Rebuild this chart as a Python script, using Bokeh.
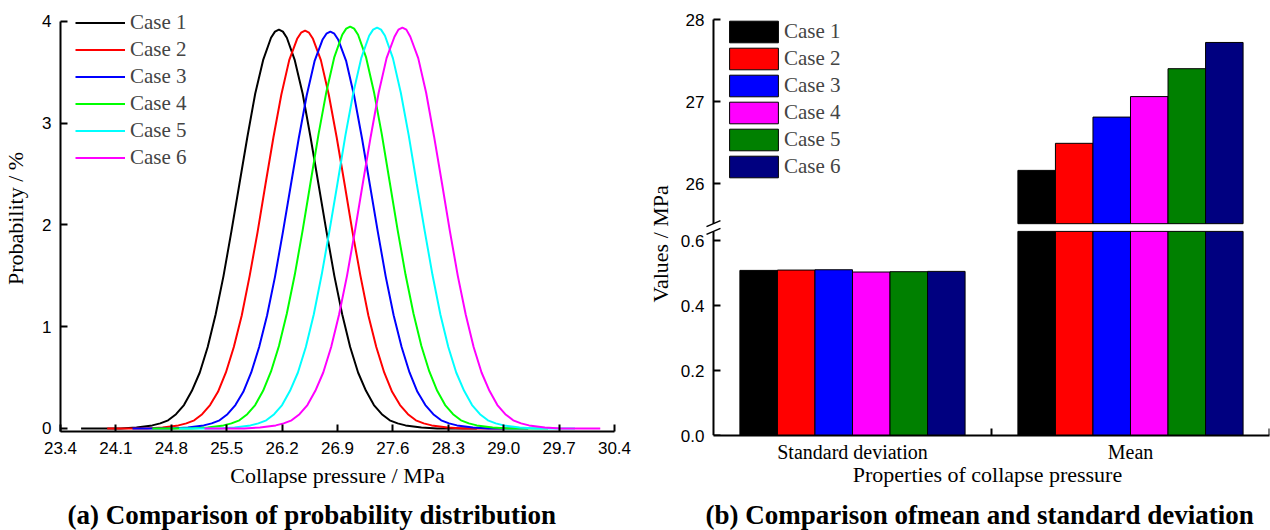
from bokeh.plotting import figure
from bokeh.models import (Range1d, FixedTicker, PrintfTickFormatter, Title,
                          Legend, LegendItem)
from bokeh.core.properties import value
from bokeh.layouts import row, column
from bokeh.embed import file_html
from bokeh.resources import INLINE

# ---------------- data ----------------
CASES = ["Case 1", "Case 2", "Case 3", "Case 4", "Case 5", "Case 6"]
CASE_MEANS = [26.16, 26.49, 26.81, 27.06, 27.40, 27.72]
CASE_STDS = [0.508, 0.509, 0.510, 0.503, 0.504, 0.505]
PROPS = ["Standard deviation", "Mean"]

# probability curves (%): offset from each case's mean (MPa) and the values read per case
PDF_OFFSET = [-2.5, -2.0, -1.8, -1.6, -1.5, -1.4, -1.3, -1.2, -1.1, -1.0, -0.9, -0.8, -0.7,
              -0.6, -0.5, -0.4, -0.3, -0.2, -0.1, -0.05, 0.0, 0.05, 0.1, 0.2, 0.3, 0.4,
              0.5, 0.6, 0.7, 0.8, 0.9, 1.0, 1.1, 1.2, 1.3, 1.4, 1.5, 1.6, 1.8, 2.0, 2.5]
PDF_CASE1 = [0.00, 0.00, 0.01, 0.03, 0.05, 0.08, 0.14, 0.23, 0.37, 0.55, 0.80, 1.12, 1.50,
             1.94, 2.40, 2.86, 3.29, 3.62, 3.84, 3.90, 3.92, 3.90, 3.84, 3.62, 3.29, 2.86,
             2.40, 1.94, 1.50, 1.12, 0.80, 0.55, 0.37, 0.23, 0.14, 0.08, 0.05, 0.03, 0.01,
             0.00, 0.00]
PDF_CASE2 = [0.00, 0.00, 0.01, 0.03, 0.05, 0.08, 0.14, 0.23, 0.36, 0.55, 0.80, 1.11, 1.50,
             1.93, 2.40, 2.86, 3.28, 3.62, 3.83, 3.89, 3.91, 3.89, 3.83, 3.62, 3.28, 2.86,
             2.40, 1.93, 1.50, 1.11, 0.80, 0.55, 0.36, 0.23, 0.14, 0.08, 0.05, 0.03, 0.01,
             0.00, 0.00]
PDF_CASE3 = [0.00, 0.00, 0.01, 0.03, 0.05, 0.08, 0.14, 0.23, 0.36, 0.55, 0.80, 1.11, 1.49,
             1.93, 2.39, 2.85, 3.27, 3.61, 3.82, 3.88, 3.90, 3.88, 3.82, 3.61, 3.27, 2.85,
             2.39, 1.93, 1.49, 1.11, 0.80, 0.55, 0.36, 0.23, 0.14, 0.08, 0.05, 0.03, 0.01,
             0.00, 0.00]
PDF_CASE4 = [0.00, 0.00, 0.01, 0.03, 0.05, 0.08, 0.14, 0.23, 0.37, 0.56, 0.81, 1.13, 1.51,
             1.95, 2.42, 2.89, 3.31, 3.65, 3.87, 3.93, 3.95, 3.93, 3.87, 3.65, 3.31, 2.89,
             2.42, 1.95, 1.51, 1.13, 0.81, 0.56, 0.37, 0.23, 0.14, 0.08, 0.05, 0.03, 0.01,
             0.00, 0.00]
PDF_CASE5 = [0.00, 0.00, 0.01, 0.03, 0.05, 0.08, 0.14, 0.23, 0.37, 0.55, 0.80, 1.12, 1.51,
             1.95, 2.41, 2.88, 3.30, 3.64, 3.86, 3.92, 3.94, 3.92, 3.86, 3.64, 3.30, 2.88,
             2.41, 1.95, 1.51, 1.12, 0.80, 0.55, 0.37, 0.23, 0.14, 0.08, 0.05, 0.03, 0.01,
             0.00, 0.00]
PDF_CASE6 = [0.00, 0.00, 0.01, 0.03, 0.05, 0.08, 0.14, 0.23, 0.37, 0.55, 0.80, 1.12, 1.50,
             1.94, 2.41, 2.87, 3.30, 3.64, 3.85, 3.92, 3.94, 3.92, 3.85, 3.64, 3.30, 2.87,
             2.41, 1.94, 1.50, 1.12, 0.80, 0.55, 0.37, 0.23, 0.14, 0.08, 0.05, 0.03, 0.01,
             0.00, 0.00]
PDF_VALUES = [PDF_CASE1, PDF_CASE2, PDF_CASE3, PDF_CASE4, PDF_CASE5, PDF_CASE6]

X_TICKS_A = [23.4, 24.1, 24.8, 25.5, 26.2, 26.9, 27.6, 28.3, 29.0, 29.7, 30.4]
Y_TICKS_A = [0, 1, 2, 3, 4]
Y_TICKS_TOP = [26, 27, 28]
Y_TICKS_BOT = [0.0, 0.2, 0.4, 0.6]

CAPTION_A = "(a) Comparison of probability distribution"
CAPTION_B = "(b) Comparison ofmean and standard deviation"

LINE_COLORS = ["#000000", "#FF0000", "#0000FF", "#00FF00", "#00FFFF", "#FF00FF"]
BAR_COLORS = ["#000000", "#FF0000", "#0000FF", "#FF00FF", "#008000", "#000080"]

SANS = "Liberation Sans"
SERIF = "Liberation Serif"
MAIN_H = 495
CAP_H = 35


def style_axis(ax, width=2):
    ax.axis_line_width = width
    ax.axis_line_color = "black"
    ax.major_tick_in = 7
    ax.major_tick_out = 0
    ax.major_tick_line_width = width
    ax.major_tick_line_color = "black"
    ax.minor_tick_line_color = None
    ax.major_label_text_font = SANS
    ax.major_label_text_font_size = "17px"
    ax.major_label_text_color = "black"
    ax.axis_label_text_font = SERIF
    ax.axis_label_text_font_size = "22px"
    ax.axis_label_text_font_style = "normal"
    ax.axis_label_text_color = "black"


def base_fig(**kw):
    f = figure(output_backend="svg", toolbar_location=None, **kw)
    f.outline_line_color = None
    f.xgrid.visible = False
    f.ygrid.visible = False
    f.background_fill_color = "white"
    f.border_fill_color = "white"
    return f


def caption_fig(width, text, frame_left, frame_width, x_start):
    # the caption's frame is aligned with the plot above it (same column), so its
    # x range is expressed in canvas pixels of that frame
    f = base_fig(width=width, height=CAP_H,
                 x_range=Range1d(frame_left, frame_left + frame_width),
                 y_range=Range1d(0, CAP_H),
                 x_axis_location=None, y_axis_location=None, min_border=0)
    f.text(x=[x_start], y=[CAP_H - 19], text=[text], text_font=value(SERIF),
           text_font_style="bold", text_font_size="27px", text_align="left",
           text_baseline="middle", text_color="black")
    return f


# ---------------- (a) probability distribution ----------------
PPU_A = 101.74          # px per % on the y axis
FH_A = 426              # frame height in px
FL_A, FW_A = 60, 554    # frame left / width in px
Y0_A = -0.03
pa = base_fig(width=640, height=MAIN_H, x_range=Range1d(23.4, 30.4),
              y_range=Range1d(Y0_A, Y0_A + FH_A / PPU_A),
              min_border_left=FL_A, min_border_right=640 - FL_A - FW_A, min_border_top=5,
              min_border_bottom=MAIN_H - 5 - FH_A)

line_renderers = []
for i, name in enumerate(CASES):
    xs = [CASE_MEANS[i] + d for d in PDF_OFFSET]
    r = pa.line(xs, PDF_VALUES[i], line_color=LINE_COLORS[i], line_width=2)
    line_renderers.append(r)

style_axis(pa.xaxis[0])
style_axis(pa.yaxis[0])
pa.xaxis[0].ticker = FixedTicker(ticks=X_TICKS_A)
pa.xaxis[0].formatter = PrintfTickFormatter(format="%.1f")
pa.yaxis[0].ticker = FixedTicker(ticks=Y_TICKS_A)
pa.yaxis[0].bounds = (Y0_A, max(Y_TICKS_A))
pa.xaxis[0].major_label_standoff = 10
pa.yaxis[0].major_label_standoff = 9
pa.xaxis[0].axis_label = "Collapse pressure / MPa"
pa.yaxis[0].axis_label = "Probability / %"
pa.xaxis[0].axis_label_standoff = 6
pa.yaxis[0].axis_label_standoff = 11

leg_a = Legend(items=[LegendItem(label=n, renderers=[r]) for n, r in zip(CASES, line_renderers)],
               location=(15, 260), glyph_width=50, glyph_height=27, label_standoff=5,
               spacing=0, padding=0, margin=0, border_line_color=None,
               background_fill_alpha=0, label_text_font=SERIF, label_text_font_size="21px",
               label_height=20)
pa.add_layout(leg_a)

# ---------------- (b) mean and standard deviation (broken y axis) ----------------
NCAT = len(PROPS)
CAT_CENTERS = [k + 0.5 for k in range(NCAT)]
BAR_W = 0.135
PAD_B = 8                # px of frame left of the y axis line
FW_B = 557 + PAD_B       # frame width
FL_B = 630 - 1 - FW_B    # frame left
CAT_PX = (FW_B - PAD_B) / NCAT
FH_B = 425               # frame height
LOW_PPU = 325.0          # px per MPa, lower segment
HIGH_PPU = 82.0          # px per MPa, upper segment
HIGH_END = 28.0 + 9 / HIGH_PPU
HIGH_START = HIGH_END - FH_B / HIGH_PPU
BREAK_LOW = 0.628        # top of the lower segment
BREAK_HIGH = 25.51       # bottom of the upper segment
TICK_PX = 7


def pos_high(v):
    # position of an upper-segment value on the lower (primary) scale, for the axis labels
    return (v - HIGH_START) * HIGH_PPU / LOW_PPU


pr = base_fig(width=630, height=MAIN_H, x_range=Range1d(-PAD_B / CAT_PX, NCAT),
              y_range=Range1d(0, FH_B / LOW_PPU),
              min_border_left=FL_B, min_border_right=1, min_border_top=10,
              min_border_bottom=MAIN_H - 10 - FH_B)
pr.extra_y_ranges = {"high": Range1d(HIGH_START, HIGH_END)}
pr.extra_x_ranges = {"px": Range1d(-PAD_B, FW_B - PAD_B)}

top_renderers = []
for i, name in enumerate(CASES):
    off = (i - 2.5) * BAR_W
    vals = [CASE_STDS[i], CASE_MEANS[i]]
    xs = [c + off for c in CAT_CENTERS]
    # lower segment (cut at the break)
    pr.vbar(x=xs, top=[min(v, BREAK_LOW) for v in vals], bottom=0, width=BAR_W,
            fill_color=BAR_COLORS[i], line_color="black", line_width=1)
    # upper segment
    hx = [x for x, v in zip(xs, vals) if v > BREAK_HIGH]
    hv = [v for v in vals if v > BREAK_HIGH]
    r = pr.vbar(x=hx, top=hv, bottom=BREAK_HIGH, width=BAR_W, y_range_name="high",
                fill_color=BAR_COLORS[i], line_color="black", line_width=1)
    top_renderers.append(r)

# y axis: labels from the axis, line/ticks drawn per segment
ya = pr.yaxis[0]
style_axis(ya, width=2)
ya.axis_line_color = None
ya.major_tick_line_color = None
high_ticks = [pos_high(v) for v in Y_TICKS_TOP]
ya.ticker = FixedTicker(ticks=Y_TICKS_BOT + high_ticks)
ya.formatter = PrintfTickFormatter(format="%.1f")
ya.major_label_overrides = {t: str(v) for t, v in zip(high_ticks, Y_TICKS_TOP)}
ya.major_label_standoff = 1

pr.segment(x0=[0], y0=[0], x1=[0], y1=[BREAK_LOW], x_range_name="px",
           line_color="black", line_width=2)
pr.segment(x0=[0], y0=[BREAK_HIGH], x1=[0], y1=[max(Y_TICKS_TOP)], x_range_name="px",
           y_range_name="high", line_color="black", line_width=2)
pr.segment(x0=[0] * len(Y_TICKS_BOT), y0=Y_TICKS_BOT, x1=[TICK_PX] * len(Y_TICKS_BOT),
           y1=Y_TICKS_BOT, x_range_name="px", line_color="black", line_width=2)
pr.segment(x0=[0] * len(Y_TICKS_TOP), y0=Y_TICKS_TOP, x1=[TICK_PX] * len(Y_TICKS_TOP),
           y1=Y_TICKS_TOP, x_range_name="px", y_range_name="high",
           line_color="black", line_width=2)

# break marks
gap_lo, gap_hi = BREAK_LOW, pos_high(BREAK_HIGH)
slash = 3 / LOW_PPU
pr.segment(x0=[-7, -7], y0=[gap_hi - slash, gap_lo - slash], x1=[7, 7],
           y1=[gap_hi + slash, gap_lo + slash], x_range_name="px",
           line_color="black", line_width=1.5)

xb = pr.xaxis[0]
style_axis(xb, width=2)
xb.bounds = (0, NCAT)
xb.ticker = FixedTicker(ticks=CAT_CENTERS)
xb.major_label_overrides = {c: n for c, n in zip(CAT_CENTERS, PROPS)}
xb.major_tick_line_color = None
xb.major_label_text_font = SERIF
xb.major_label_text_font_size = "20px"
xb.major_label_standoff = 5
xb.axis_label = "Properties of collapse pressure"
xb.axis_label_standoff = -4

# inward ticks at the category boundaries of the x axis
bounds = list(range(1, NCAT + 1))
pr.segment(x0=bounds, y0=[0] * NCAT, x1=bounds, y1=[TICK_PX / LOW_PPU] * NCAT,
           line_color="black", line_width=2)

leg_b = Legend(items=[LegendItem(label=n, renderers=[r]) for n, r in zip(CASES, top_renderers)],
               location=(18, 255), glyph_width=61, glyph_height=27, label_standoff=0,
               spacing=0, padding=0, margin=0, border_line_color=None,
               background_fill_alpha=0, label_text_font=SERIF, label_text_font_size="21px",
               label_height=20)
pr.add_layout(leg_b)

pr.add_layout(Title(text="Values / MPa", align="left", offset=133, text_font=SERIF,
                    text_font_style="normal", text_font_size="22px", text_color="black"),
              "left")

cap_a = caption_fig(640, CAPTION_A, FL_A, FW_A, 67)
cap_b = caption_fig(630, CAPTION_B, FL_B, FW_B, 64)

layout = row(column(pa, cap_a, spacing=0), column(pr, cap_b, spacing=0), spacing=0)
open("out.html", "w").write(file_html(layout, INLINE))
